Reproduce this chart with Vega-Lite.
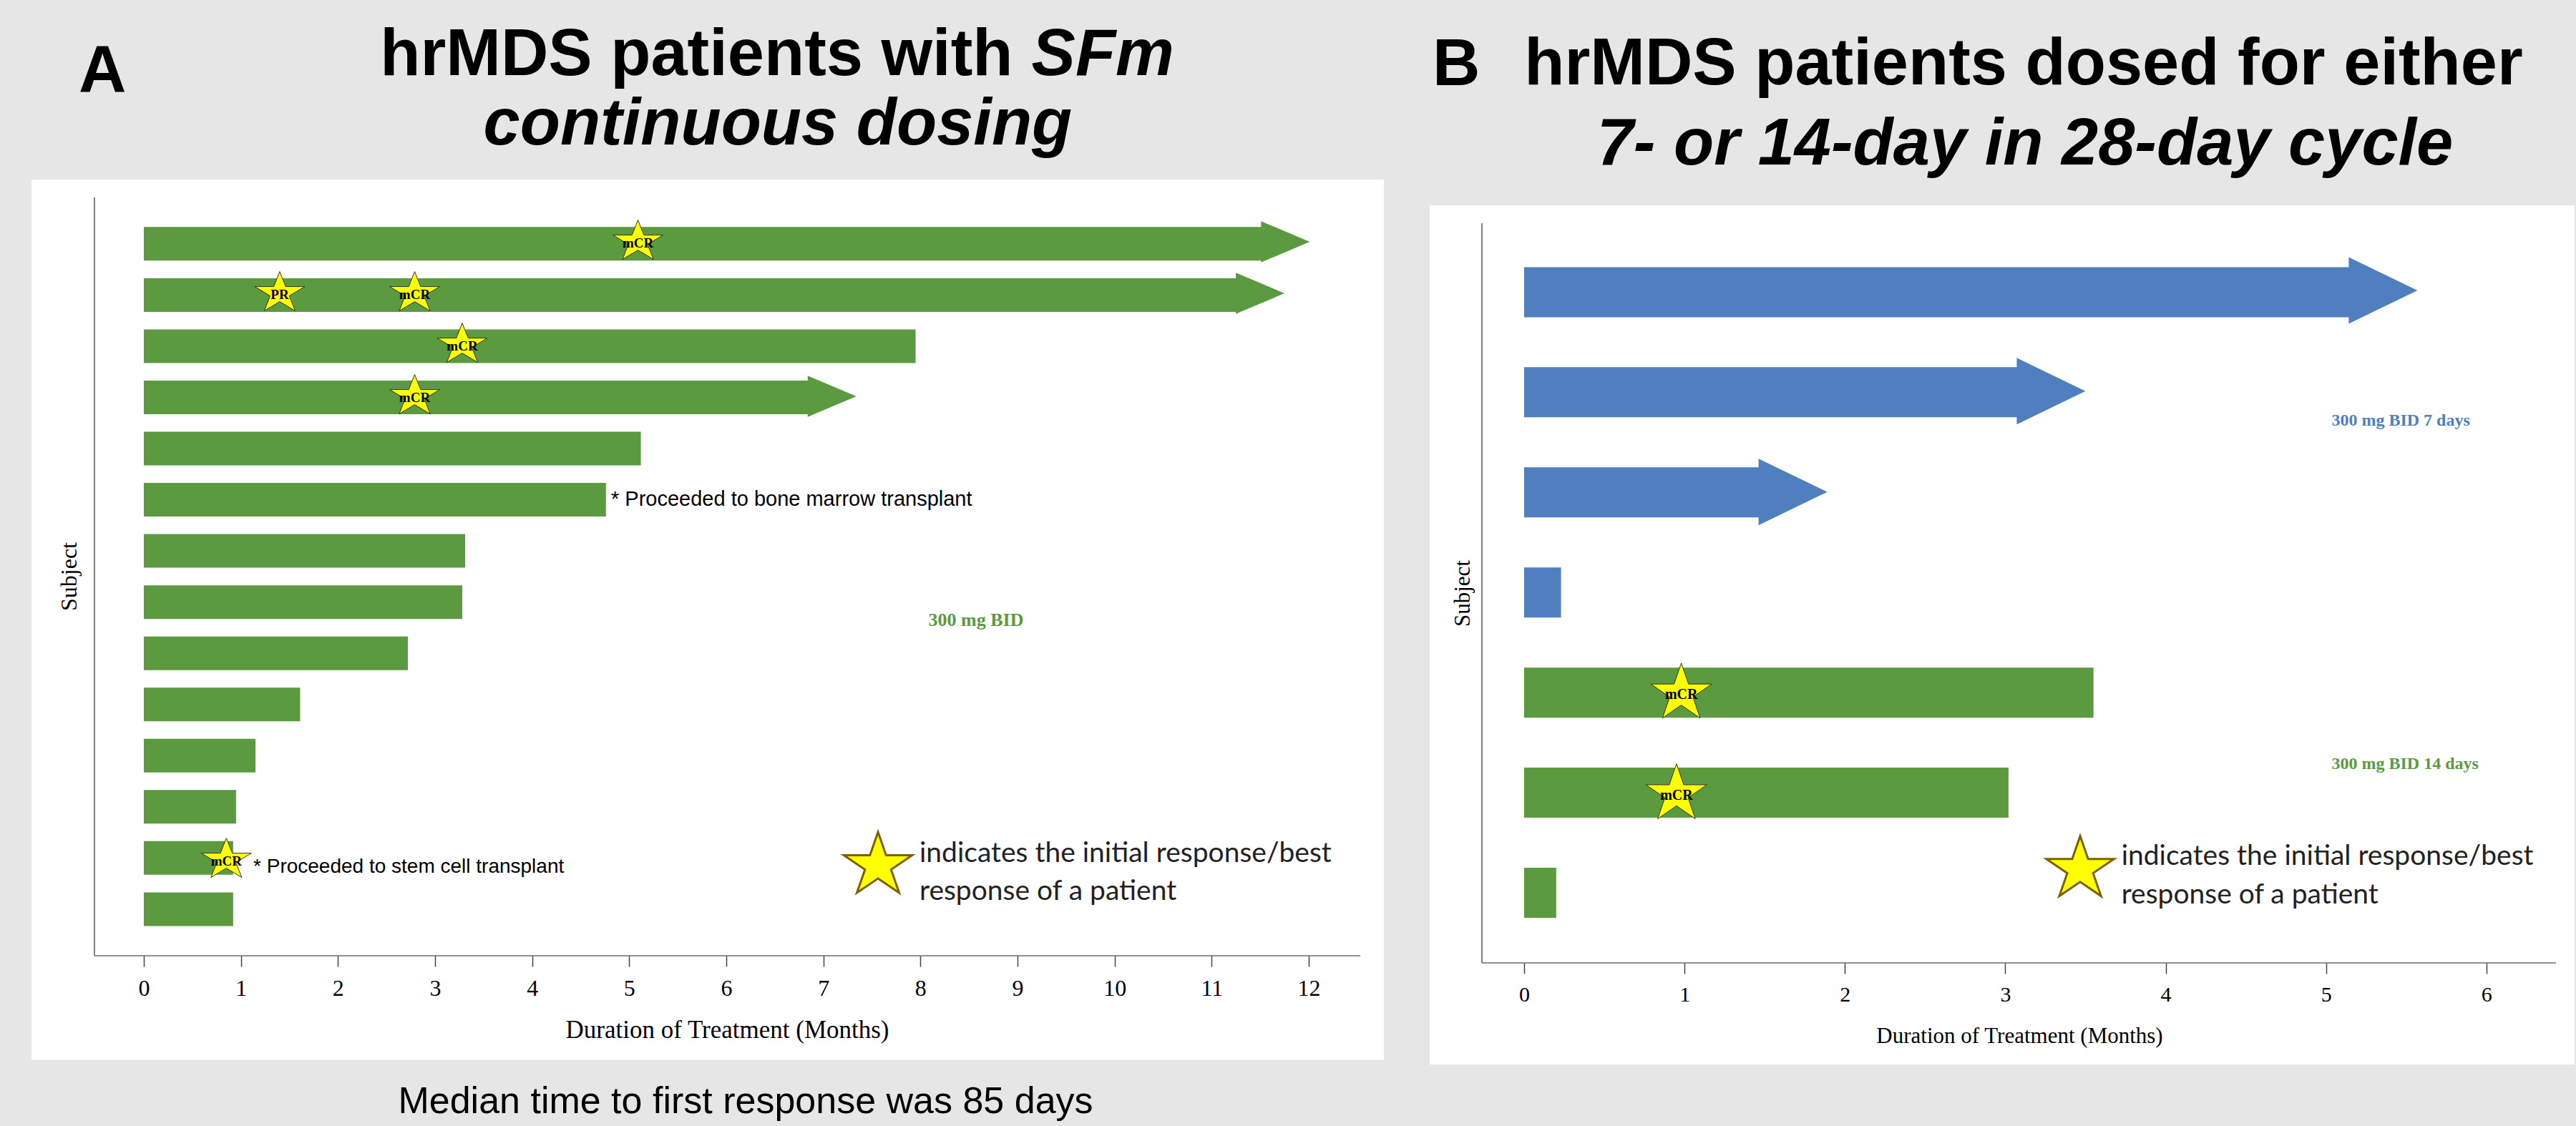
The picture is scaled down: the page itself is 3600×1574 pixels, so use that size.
{
  "$schema": "https://vega.github.io/schema/vega-lite/v6.json",
  "width": 3600,
  "height": 1574,
  "autosize": {"type": "fit", "contains": "padding"},
  "padding": 0,
  "background": "#e6e6e6",
  "config": {"view": {"stroke": null}, "axis": {"grid": false}},
  "datasets": {
    "barsA": [
      {"subject": 1, "months": 12.01, "ongoing": true},
      {"subject": 2, "months": 11.75, "ongoing": true},
      {"subject": 3, "months": 7.95, "ongoing": false},
      {"subject": 4, "months": 7.34, "ongoing": true},
      {"subject": 5, "months": 5.12, "ongoing": false},
      {"subject": 6, "months": 4.76, "ongoing": false},
      {"subject": 7, "months": 3.31, "ongoing": false},
      {"subject": 8, "months": 3.28, "ongoing": false},
      {"subject": 9, "months": 2.72, "ongoing": false},
      {"subject": 10, "months": 1.61, "ongoing": false},
      {"subject": 11, "months": 1.15, "ongoing": false},
      {"subject": 12, "months": 0.95, "ongoing": false},
      {"subject": 13, "months": 0.92, "ongoing": false},
      {"subject": 14, "months": 0.92, "ongoing": false}
    ],
    "barsB": [
      {"subject": 1, "months": 5.57, "ongoing": true, "schedule": "300 mg BID 7 days"},
      {"subject": 2, "months": 3.5, "ongoing": true, "schedule": "300 mg BID 7 days"},
      {"subject": 3, "months": 1.89, "ongoing": true, "schedule": "300 mg BID 7 days"},
      {"subject": 4, "months": 0.23, "ongoing": false, "schedule": "300 mg BID 7 days"},
      {"subject": 5, "months": 3.55, "ongoing": false, "schedule": "300 mg BID 14 days"},
      {"subject": 6, "months": 3.02, "ongoing": false, "schedule": "300 mg BID 14 days"},
      {"subject": 7, "months": 0.2, "ongoing": false, "schedule": "300 mg BID 14 days"}
    ],
    "respA": [
      {"subject": 1, "months": 5.09, "response": "mCR"},
      {"subject": 2, "months": 1.4, "response": "PR"},
      {"subject": 2, "months": 2.79, "response": "mCR"},
      {"subject": 3, "months": 3.28, "response": "mCR"},
      {"subject": 4, "months": 2.79, "response": "mCR"},
      {"subject": 13, "months": 0.85, "response": "mCR"}
    ],
    "respB": [
      {"subject": 5, "months": 0.98, "response": "mCR"},
      {"subject": 6, "months": 0.95, "response": "mCR"}
    ]
  },
  "layer": [
    {
      "data": {"values": [{}]},
      "mark": {"type": "rect", "fill": "#ffffff"},
      "encoding": {
        "x": {"datum": -1.1573, "type": "quantitative", "scale": {"domain": [-1.4816, 25.054], "nice": false, "zero": false}, "axis": null},
        "x2": {"datum": 12.774},
        "y": {"datum": -0.2083, "type": "quantitative", "scale": {"domain": [-3.6944, 18.1667], "nice": false, "zero": false, "reverse": true},
          "axis": {"orient": "left", "offset": -132, "zindex": 1, "domain": false, "ticks": false, "labels": false, "grid": false, "title": "Subject", "titleFont": "Liberation Serif", "titleFontSize": 32, "titleFontWeight": "normal", "titleColor": "#000000", "titleAngle": -90, "titleX": -26, "titleY": 805.5, "titleAlign": "center", "titleBaseline": "alphabetic"}},
        "y2": {"datum": 16.883}
      }
    },
    {
      "data": {"values": [{}]},
      "mark": {"type": "rect", "fill": "#ffffff"},
      "encoding": {
        "x": {"datum": -0.5889, "type": "quantitative", "scale": {"domain": [-9.5034, 6.5587], "nice": false, "zero": false}, "axis": null},
        "x2": {"datum": 6.5498},
        "y": {"datum": 0.155, "type": "quantitative", "scale": {"domain": [-1.8829, 9.2936], "nice": false, "zero": false, "reverse": true},
          "axis": {"orient": "left", "offset": -2071, "zindex": 1, "domain": false, "ticks": false, "labels": false, "grid": false, "title": "Subject", "titleFont": "Liberation Serif", "titleFontSize": 31, "titleFontWeight": "normal", "titleColor": "#000000", "titleAngle": -90, "titleX": -18, "titleY": 829, "titleAlign": "center", "titleBaseline": "alphabetic"}},
        "y2": {"datum": 8.683}
      }
    },
    {
      "data": {"values": [{}]},
      "mark": {"type": "rule", "color": "#6b6b6b", "strokeWidth": 1.7},
      "encoding": {
        "x": {"datum": -0.5086, "type": "quantitative", "scale": {"domain": [-1.4816, 25.054], "nice": false, "zero": false}, "axis": null},
        "y": {"datum": 0.1389, "type": "quantitative", "scale": {"domain": [-3.6944, 18.1667], "nice": false, "zero": false, "reverse": true}, "axis": null},
        "y2": {"datum": 14.861}
      }
    },
    {
      "data": {"values": [{}]},
      "mark": {"type": "rule", "color": "#6b6b6b", "strokeWidth": 1.7},
      "encoding": {
        "x": {"datum": -0.5086, "type": "quantitative", "scale": {"domain": [-1.4816, 25.054], "nice": false, "zero": false},
          "axis": {"orient": "bottom", "offset": -238, "zindex": 1, "values": [0, 1, 2, 3, 4, 5, 6, 7, 8, 9, 10, 11, 12], "format": "d", "domain": false, "grid": false, "ticks": true, "tickSize": 15, "tickColor": "#444444", "tickWidth": 1.5, "labelFont": "Liberation Serif", "labelFontSize": 32, "labelColor": "#000000", "labelPadding": 15, "labelFlush": false, "labelOverlap": false, "title": "Duration of Treatment (Months)", "titleFont": "Liberation Serif", "titleFontSize": 35, "titleFontWeight": "normal", "titleColor": "#000000", "titleX": 1016, "titleY": 114, "titleAlign": "center", "titleBaseline": "alphabetic"}},
        "x2": {"datum": 12.531},
        "y": {"datum": 14.861, "type": "quantitative", "scale": {"domain": [-3.6944, 18.1667], "nice": false, "zero": false, "reverse": true}, "axis": null}
      }
    },
    {
      "data": {"values": [{}]},
      "mark": {"type": "rule", "color": "#6b6b6b", "strokeWidth": 1.7},
      "encoding": {
        "x": {"datum": -0.2632, "type": "quantitative", "scale": {"domain": [-9.5034, 6.5587], "nice": false, "zero": false}, "axis": null},
        "y": {"datum": 0.3325, "type": "quantitative", "scale": {"domain": [-1.8829, 9.2936], "nice": false, "zero": false, "reverse": true}, "axis": null},
        "y2": {"datum": 7.6747}
      }
    },
    {
      "data": {"values": [{}]},
      "mark": {"type": "rule", "color": "#6b6b6b", "strokeWidth": 1.7},
      "encoding": {
        "x": {"datum": -0.2632, "type": "quantitative", "scale": {"domain": [-9.5034, 6.5587], "nice": false, "zero": false},
          "axis": {"orient": "bottom", "offset": -228, "zindex": 1, "values": [0, 1, 2, 3, 4, 5, 6], "format": "d", "domain": false, "grid": false, "ticks": true, "tickSize": 15, "tickColor": "#444444", "tickWidth": 1.5, "labelFont": "Liberation Serif", "labelFontSize": 30, "labelColor": "#000000", "labelPadding": 14, "labelFlush": false, "labelOverlap": false, "title": "Duration of Treatment (Months)", "titleFont": "Liberation Serif", "titleFontSize": 31, "titleFontWeight": "normal", "titleColor": "#000000", "titleX": 2822, "titleY": 111, "titleAlign": "center", "titleBaseline": "alphabetic"}},
        "x2": {"datum": 6.434},
        "y": {"datum": 7.6747, "type": "quantitative", "scale": {"domain": [-1.8829, 9.2936], "nice": false, "zero": false, "reverse": true}, "axis": null}
      }
    },
    {
      "data": {"name": "barsA"},
      "transform": [{"filter": "!datum.ongoing"}],
      "mark": {"type": "bar", "orient": "horizontal", "size": 47, "color": "#5b9a3e"},
      "encoding": {
        "x": {"field": "months", "type": "quantitative", "stack": null, "scale": {"domain": [-1.4816, 25.054], "nice": false, "zero": false}, "axis": null},
        "y": {"field": "subject", "type": "quantitative", "scale": {"domain": [-3.6944, 18.1667], "nice": false, "zero": false, "reverse": true}, "axis": null}
      }
    },
    {
      "data": {"name": "barsA"},
      "transform": [{"filter": "datum.ongoing"}],
      "mark": {"type": "bar", "orient": "horizontal", "size": 47, "color": "#5b9a3e", "xOffset": -66},
      "encoding": {
        "x": {"field": "months", "type": "quantitative", "stack": null, "scale": {"domain": [-1.4816, 25.054], "nice": false, "zero": false}, "axis": null},
        "y": {"field": "subject", "type": "quantitative", "scale": {"domain": [-3.6944, 18.1667], "nice": false, "zero": false, "reverse": true}, "axis": null}
      }
    },
    {
      "data": {"name": "barsA"},
      "transform": [{"filter": "datum.ongoing"}],
      "mark": {"type": "point", "shape": "M0,0L-2,-0.846L-2,0.846Z", "size": 4624, "filled": true, "color": "#5b9a3e", "opacity": 1, "strokeWidth": 0},
      "encoding": {
        "x": {"field": "months", "type": "quantitative", "scale": {"domain": [-1.4816, 25.054], "nice": false, "zero": false}, "axis": null},
        "y": {"field": "subject", "type": "quantitative", "scale": {"domain": [-3.6944, 18.1667], "nice": false, "zero": false, "reverse": true}, "axis": null}
      }
    },
    {
      "data": {"name": "barsB"},
      "transform": [{"filter": "!datum.ongoing"}],
      "mark": {"type": "bar", "orient": "horizontal", "size": 70},
      "encoding": {
        "x": {"field": "months", "type": "quantitative", "stack": null, "scale": {"domain": [-9.5034, 6.5587], "nice": false, "zero": false}, "axis": null},
        "y": {"field": "subject", "type": "quantitative", "scale": {"domain": [-1.8829, 9.2936], "nice": false, "zero": false, "reverse": true}, "axis": null},
        "color": {"field": "schedule", "type": "nominal", "scale": {"domain": ["300 mg BID 7 days", "300 mg BID 14 days"], "range": ["#4f7fbf", "#5b9a3e"]}, "legend": null}
      }
    },
    {
      "data": {"name": "barsB"},
      "transform": [{"filter": "datum.ongoing"}],
      "mark": {"type": "bar", "orient": "horizontal", "size": 70, "xOffset": -94},
      "encoding": {
        "x": {"field": "months", "type": "quantitative", "stack": null, "scale": {"domain": [-9.5034, 6.5587], "nice": false, "zero": false}, "axis": null},
        "y": {"field": "subject", "type": "quantitative", "scale": {"domain": [-1.8829, 9.2936], "nice": false, "zero": false, "reverse": true}, "axis": null},
        "color": {"field": "schedule", "type": "nominal", "scale": {"domain": ["300 mg BID 7 days", "300 mg BID 14 days"], "range": ["#4f7fbf", "#5b9a3e"]}, "legend": null}
      }
    },
    {
      "data": {"name": "barsB"},
      "transform": [{"filter": "datum.ongoing"}],
      "mark": {"type": "point", "shape": "M0,0L-2,-0.969L-2,0.969Z", "size": 9216, "filled": true, "opacity": 1, "strokeWidth": 0},
      "encoding": {
        "x": {"field": "months", "type": "quantitative", "scale": {"domain": [-9.5034, 6.5587], "nice": false, "zero": false}, "axis": null},
        "y": {"field": "subject", "type": "quantitative", "scale": {"domain": [-1.8829, 9.2936], "nice": false, "zero": false, "reverse": true}, "axis": null},
        "color": {"field": "schedule", "type": "nominal", "scale": {"domain": ["300 mg BID 7 days", "300 mg BID 14 days"], "range": ["#4f7fbf", "#5b9a3e"]}, "legend": null}
      }
    },
    {
      "data": {"name": "respA"},
      "mark": {"type": "point", "shape": "M0,-1L0.272,-0.309L1.151,-0.309L0.439,0.118L0.711,0.809L0,0.382L-0.711,0.809L-0.439,0.118L-1.151,-0.309L-0.272,-0.309Z", "size": 3697, "filled": true, "fill": "#ffff00", "stroke": "#333333", "strokeWidth": 1, "opacity": 1},
      "encoding": {
        "x": {"field": "months", "type": "quantitative", "scale": {"domain": [-1.4816, 25.054], "nice": false, "zero": false}, "axis": null},
        "y": {"field": "subject", "type": "quantitative", "scale": {"domain": [-3.6944, 18.1667], "nice": false, "zero": false, "reverse": true}, "axis": null}
      }
    },
    {
      "data": {"name": "respA"},
      "mark": {"type": "text", "font": "Liberation Serif", "fontWeight": "bold", "fontSize": 19, "color": "#000000", "baseline": "middle", "align": "center", "dy": 2},
      "encoding": {
        "x": {"field": "months", "type": "quantitative", "scale": {"domain": [-1.4816, 25.054], "nice": false, "zero": false}, "axis": null},
        "y": {"field": "subject", "type": "quantitative", "scale": {"domain": [-3.6944, 18.1667], "nice": false, "zero": false, "reverse": true}, "axis": null},
        "text": {"field": "response", "type": "nominal"}
      }
    },
    {
      "data": {"name": "respB"},
      "mark": {"type": "point", "shape": "M0,-1L0.236,-0.309L0.999,-0.309L0.381,0.118L0.617,0.809L0,0.382L-0.617,0.809L-0.381,0.118L-0.999,-0.309L-0.236,-0.309Z", "size": 7259, "filled": true, "fill": "#ffff00", "stroke": "#333333", "strokeWidth": 1, "opacity": 1},
      "encoding": {
        "x": {"field": "months", "type": "quantitative", "scale": {"domain": [-9.5034, 6.5587], "nice": false, "zero": false}, "axis": null},
        "y": {"field": "subject", "type": "quantitative", "scale": {"domain": [-1.8829, 9.2936], "nice": false, "zero": false, "reverse": true}, "axis": null}
      }
    },
    {
      "data": {"name": "respB"},
      "mark": {"type": "text", "font": "Liberation Serif", "fontWeight": "bold", "fontSize": 20, "color": "#000000", "baseline": "middle", "align": "center", "dy": 2},
      "encoding": {
        "x": {"field": "months", "type": "quantitative", "scale": {"domain": [-9.5034, 6.5587], "nice": false, "zero": false}, "axis": null},
        "y": {"field": "subject", "type": "quantitative", "scale": {"domain": [-1.8829, 9.2936], "nice": false, "zero": false, "reverse": true}, "axis": null},
        "text": {"field": "response", "type": "nominal"}
      }
    },
    {
      "data": {"values": [{}]},
      "mark": {"type": "text", "font": "Liberation Sans", "fontWeight": "bold", "fontSize": 92, "color": "#000000", "align": "left", "baseline": "alphabetic", "text": "A"},
      "encoding": {
        "x": {"datum": -0.6708, "type": "quantitative", "scale": {"domain": [-1.4816, 25.054], "nice": false, "zero": false}, "axis": null},
        "y": {"datum": -1.917, "type": "quantitative", "scale": {"domain": [-3.6944, 18.1667], "nice": false, "zero": false, "reverse": true}, "axis": null}
      }
    },
    {
      "data": {"values": [{}]},
      "mark": {"type": "text", "font": "Liberation Sans", "fontWeight": "bold", "fontSize": 92, "color": "#000000", "align": "right", "baseline": "alphabetic", "text": "hrMDS patients with"},
      "encoding": {
        "x": {"datum": 8.952, "type": "quantitative", "scale": {"domain": [-1.4816, 25.054], "nice": false, "zero": false}, "axis": null},
        "y": {"datum": -2.236, "type": "quantitative", "scale": {"domain": [-3.6944, 18.1667], "nice": false, "zero": false, "reverse": true}, "axis": null}
      }
    },
    {
      "data": {"values": [{}]},
      "mark": {"type": "text", "font": "Liberation Sans", "fontWeight": "bold", "fontStyle": "italic", "fontSize": 92, "color": "#000000", "align": "left", "baseline": "alphabetic", "text": "SFm"},
      "encoding": {
        "x": {"datum": 9.144, "type": "quantitative", "scale": {"domain": [-1.4816, 25.054], "nice": false, "zero": false}, "axis": null},
        "y": {"datum": -2.236, "type": "quantitative", "scale": {"domain": [-3.6944, 18.1667], "nice": false, "zero": false, "reverse": true}, "axis": null}
      }
    },
    {
      "data": {"values": [{}]},
      "mark": {"type": "text", "font": "Liberation Sans", "fontWeight": "bold", "fontStyle": "italic", "fontSize": 92, "color": "#000000", "align": "center", "baseline": "alphabetic", "text": "continuous dosing"},
      "encoding": {
        "x": {"datum": 6.53, "type": "quantitative", "scale": {"domain": [-1.4816, 25.054], "nice": false, "zero": false}, "axis": null},
        "y": {"datum": -0.889, "type": "quantitative", "scale": {"domain": [-3.6944, 18.1667], "nice": false, "zero": false, "reverse": true}, "axis": null}
      }
    },
    {
      "data": {"values": [{}]},
      "mark": {"type": "text", "font": "Liberation Serif", "fontWeight": "bold", "fontSize": 26, "color": "#5b9a3e", "align": "center", "baseline": "alphabetic", "text": "300 mg BID"},
      "encoding": {
        "x": {"datum": 8.573, "type": "quantitative", "scale": {"domain": [-1.4816, 25.054], "nice": false, "zero": false}, "axis": null},
        "y": {"datum": 8.4583, "type": "quantitative", "scale": {"domain": [-3.6944, 18.1667], "nice": false, "zero": false, "reverse": true}, "axis": null}
      }
    },
    {
      "data": {"values": [{}]},
      "mark": {"type": "text", "font": "Liberation Sans", "fontSize": 29, "color": "#000000", "align": "left", "baseline": "alphabetic", "text": "* Proceeded to bone marrow transplant"},
      "encoding": {
        "x": {"datum": 4.813, "type": "quantitative", "scale": {"domain": [-1.4816, 25.054], "nice": false, "zero": false}, "axis": null},
        "y": {"datum": 6.125, "type": "quantitative", "scale": {"domain": [-3.6944, 18.1667], "nice": false, "zero": false, "reverse": true}, "axis": null}
      }
    },
    {
      "data": {"values": [{}]},
      "mark": {"type": "text", "font": "Liberation Sans", "fontSize": 28, "color": "#000000", "align": "left", "baseline": "alphabetic", "text": "* Proceeded to stem cell transplant"},
      "encoding": {
        "x": {"datum": 1.128, "type": "quantitative", "scale": {"domain": [-1.4816, 25.054], "nice": false, "zero": false}, "axis": null},
        "y": {"datum": 13.25, "type": "quantitative", "scale": {"domain": [-3.6944, 18.1667], "nice": false, "zero": false, "reverse": true}, "axis": null}
      }
    },
    {
      "data": {"values": [{}]},
      "mark": {"type": "point", "shape": "M0,-1L0.240,-0.309L1.018,-0.309L0.388,0.118L0.629,0.809L0,0.382L-0.629,0.809L-0.388,0.118L-1.018,-0.309L-0.240,-0.309Z", "size": 8836, "filled": true, "fill": "#ffff00", "stroke": "#7f6000", "strokeWidth": 3, "opacity": 1},
      "encoding": {
        "x": {"datum": 7.563, "type": "quantitative", "scale": {"domain": [-1.4816, 25.054], "nice": false, "zero": false}, "axis": null},
        "y": {"datum": 13.111, "type": "quantitative", "scale": {"domain": [-3.6944, 18.1667], "nice": false, "zero": false, "reverse": true}, "axis": null}
      }
    },
    {
      "data": {"values": [{}]},
      "mark": {"type": "text", "font": "Lato", "fontSize": 39, "color": "#222222", "align": "left", "baseline": "alphabetic", "lineHeight": 53, "text": ["indicates the initial response/best", "response of a patient"]},
      "encoding": {
        "x": {"datum": 7.99, "type": "quantitative", "scale": {"domain": [-1.4816, 25.054], "nice": false, "zero": false}, "axis": null},
        "y": {"datum": 13.0417, "type": "quantitative", "scale": {"domain": [-3.6944, 18.1667], "nice": false, "zero": false, "reverse": true}, "axis": null}
      }
    },
    {
      "data": {"values": [{}]},
      "mark": {"type": "text", "font": "Liberation Sans", "fontSize": 52, "color": "#000000", "align": "center", "baseline": "alphabetic", "text": "Median time to first response was 85 days"},
      "encoding": {
        "x": {"datum": 6.199, "type": "quantitative", "scale": {"domain": [-1.4816, 25.054], "nice": false, "zero": false}, "axis": null},
        "y": {"datum": 17.9167, "type": "quantitative", "scale": {"domain": [-3.6944, 18.1667], "nice": false, "zero": false, "reverse": true}, "axis": null}
      }
    },
    {
      "data": {"values": [{}]},
      "mark": {"type": "text", "font": "Liberation Sans", "fontWeight": "bold", "fontSize": 92, "color": "#000000", "align": "left", "baseline": "alphabetic", "text": "B"},
      "encoding": {
        "x": {"datum": -0.5711, "type": "quantitative", "scale": {"domain": [-9.5034, 6.5587], "nice": false, "zero": false}, "axis": null},
        "y": {"datum": -1.04, "type": "quantitative", "scale": {"domain": [-1.8829, 9.2936], "nice": false, "zero": false, "reverse": true}, "axis": null}
      }
    },
    {
      "data": {"values": [{}]},
      "mark": {"type": "text", "font": "Liberation Sans", "fontWeight": "bold", "fontSize": 92, "color": "#000000", "align": "center", "baseline": "alphabetic", "text": "hrMDS patients dosed for either"},
      "encoding": {
        "x": {"datum": 3.1143, "type": "quantitative", "scale": {"domain": [-9.5034, 6.5587], "nice": false, "zero": false}, "axis": null},
        "y": {"datum": -1.045, "type": "quantitative", "scale": {"domain": [-1.8829, 9.2936], "nice": false, "zero": false, "reverse": true}, "axis": null}
      }
    },
    {
      "data": {"values": [{}]},
      "mark": {"type": "text", "font": "Liberation Sans", "fontWeight": "bold", "fontStyle": "italic", "fontSize": 92, "color": "#000000", "align": "center", "baseline": "alphabetic", "text": "7- or 14-day in 28-day cycle"},
      "encoding": {
        "x": {"datum": 3.1232, "type": "quantitative", "scale": {"domain": [-9.5034, 6.5587], "nice": false, "zero": false}, "axis": null},
        "y": {"datum": -0.25, "type": "quantitative", "scale": {"domain": [-1.8829, 9.2936], "nice": false, "zero": false, "reverse": true}, "axis": null}
      }
    },
    {
      "data": {"values": [{}]},
      "mark": {"type": "text", "font": "Liberation Serif", "fontWeight": "bold", "fontSize": 24, "color": "#4f7fbf", "align": "center", "baseline": "alphabetic", "text": "300 mg BID 7 days"},
      "encoding": {
        "x": {"datum": 5.466, "type": "quantitative", "scale": {"domain": [-9.5034, 6.5587], "nice": false, "zero": false}, "axis": null},
        "y": {"datum": 2.342, "type": "quantitative", "scale": {"domain": [-1.8829, 9.2936], "nice": false, "zero": false, "reverse": true}, "axis": null}
      }
    },
    {
      "data": {"values": [{}]},
      "mark": {"type": "text", "font": "Liberation Serif", "fontWeight": "bold", "fontSize": 24, "color": "#5b9a3e", "align": "center", "baseline": "alphabetic", "text": "300 mg BID 14 days"},
      "encoding": {
        "x": {"datum": 5.493, "type": "quantitative", "scale": {"domain": [-9.5034, 6.5587], "nice": false, "zero": false}, "axis": null},
        "y": {"datum": 5.75, "type": "quantitative", "scale": {"domain": [-1.8829, 9.2936], "nice": false, "zero": false, "reverse": true}, "axis": null}
      }
    },
    {
      "data": {"values": [{}]},
      "mark": {"type": "point", "shape": "M0,-1L0.240,-0.309L1.018,-0.309L0.388,0.118L0.629,0.809L0,0.382L-0.629,0.809L-0.388,0.118L-1.018,-0.309L-0.240,-0.309Z", "size": 8612, "filled": true, "fill": "#ffff00", "stroke": "#7f6000", "strokeWidth": 3, "opacity": 1},
      "encoding": {
        "x": {"datum": 3.467, "type": "quantitative", "scale": {"domain": [-9.5034, 6.5587], "nice": false, "zero": false}, "axis": null},
        "y": {"datum": 6.745, "type": "quantitative", "scale": {"domain": [-1.8829, 9.2936], "nice": false, "zero": false, "reverse": true}, "axis": null}
      }
    },
    {
      "data": {"values": [{}]},
      "mark": {"type": "text", "font": "Lato", "fontSize": 39, "color": "#222222", "align": "left", "baseline": "alphabetic", "lineHeight": 54.6, "text": ["indicates the initial response/best", "response of a patient"]},
      "encoding": {
        "x": {"datum": 3.724, "type": "quantitative", "scale": {"domain": [-9.5034, 6.5587], "nice": false, "zero": false}, "axis": null},
        "y": {"datum": 6.7, "type": "quantitative", "scale": {"domain": [-1.8829, 9.2936], "nice": false, "zero": false, "reverse": true}, "axis": null}
      }
    }
  ],
  "resolve": {"scale": {"x": "independent", "y": "independent"}, "axis": {"x": "independent", "y": "independent"}}
}
